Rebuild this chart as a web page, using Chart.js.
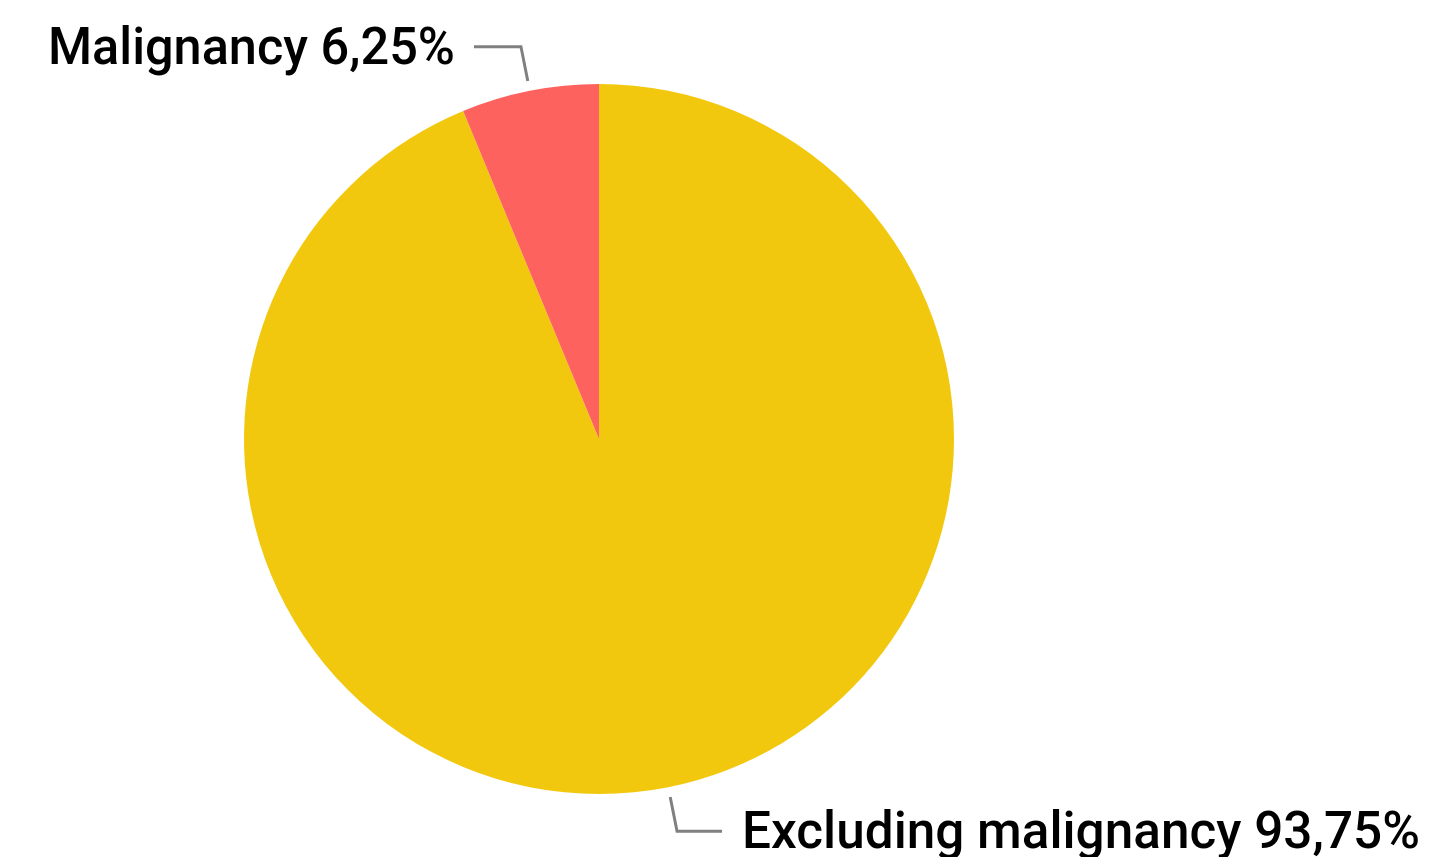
<!DOCTYPE html>
<html>
<head>
<meta charset="utf-8">
<script src="https://cdn.jsdelivr.net/npm/chart.js@4.4.0/dist/chart.umd.min.js"></script>
<style>
html,body{margin:0;padding:0;background:#fff;}
#wrap{width:1434px;height:857px;position:relative;}
</style>
</head>
<body>
<div id="wrap"><canvas id="c" width="1434" height="857"></canvas></div>
<script>
const categories = ["Excluding malignancy", "Malignancy"];
const values = [93.75, 6.25];
const valueLabels = ["93,75%", "6,25%"];
const colors = ["#F2C80F", "#FD625E"];

const labelPlugin = {
  id: 'leaderLabels',
  afterDatasetsDraw(chart) {
    const ctx = chart.ctx;
    const meta = chart.getDatasetMeta(0);
    meta.data.forEach((arc, i) => {
      const p = arc.getProps(['x','y','startAngle','endAngle','outerRadius'], true);
      const mid = (p.startAngle + p.endAngle) / 2;
      const r1 = p.outerRadius + 10, r2 = p.outerRadius + 45;
      const x1 = p.x + Math.cos(mid) * r1, y1 = p.y + Math.sin(mid) * r1;
      const x2 = p.x + Math.cos(mid) * r2, y2 = p.y + Math.sin(mid) * r2;
      const right = Math.cos(mid) >= 0;
      const x3 = x2 + (right ? 45 : -47);
      ctx.save();
      ctx.strokeStyle = '#808080';
      ctx.lineWidth = 3;
      ctx.beginPath();
      ctx.moveTo(x1, y1); ctx.lineTo(x2, y2); ctx.lineTo(x3, y2);
      ctx.stroke();
      const text = categories[i] + ' ' + valueLabels[i];
      ctx.font = '500 52px Roboto, "DejaVu Sans", sans-serif';
      ctx.fillStyle = '#000';
      ctx.textBaseline = 'alphabetic';
      const targetW = right ? 678 : 407;
      if (right) {
        ctx.textAlign = 'left';
        ctx.fillText(text, x3 + 20, y2 + 17, targetW);
      } else {
        ctx.textAlign = 'right';
        ctx.fillText(text, x3 - 19, y2 + 17, targetW);
      }
      ctx.restore();
    });
  }
};

new Chart(document.getElementById('c'), {
  type: 'pie',
  data: {
    labels: categories,
    datasets: [{ data: values, backgroundColor: colors, borderWidth: 0 }]
  },
  options: {
    responsive: false,
    animation: false,
    layout: { padding: { left: 244, right: 480, top: 84, bottom: 63 } },
    plugins: { legend: { display: false }, tooltip: { enabled: false } }
  },
  plugins: [labelPlugin]
});
</script>
</body>
</html>
